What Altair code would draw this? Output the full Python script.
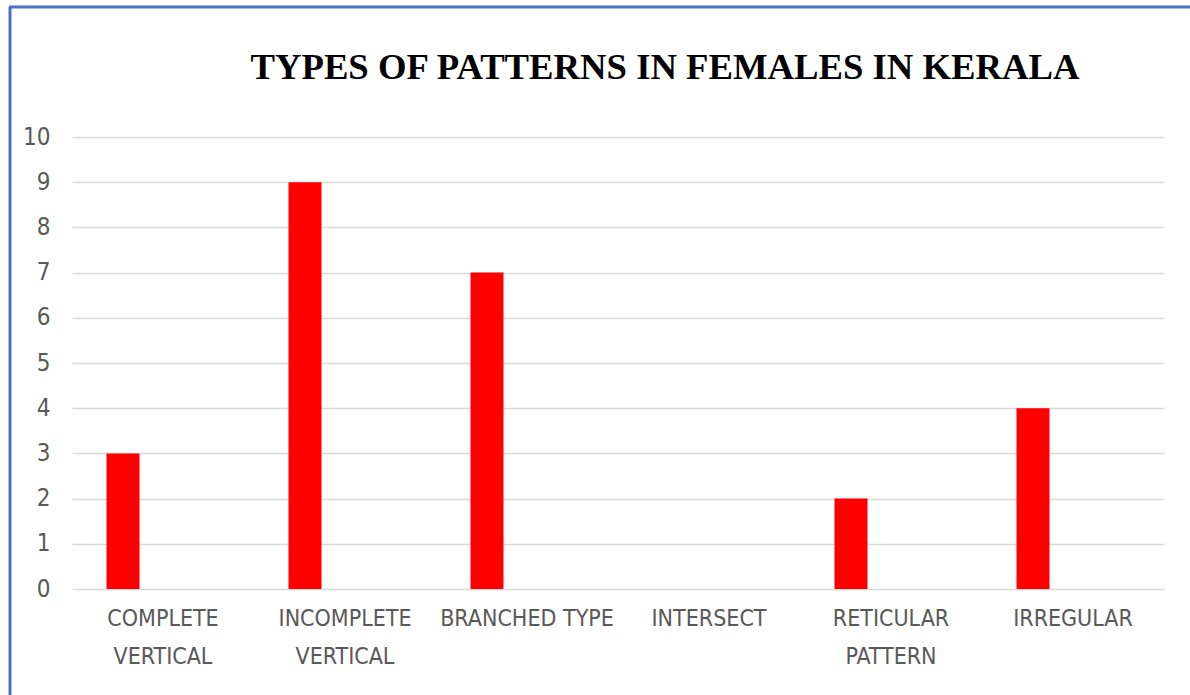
import altair as alt
import pandas as pd

# Pattern categories and their counts
categories = [
    "COMPLETE VERTICAL",
    "INCOMPLETE VERTICAL",
    "BRANCHED TYPE",
    "INTERSECT",
    "RETICULAR PATTERN",
    "IRREGULAR",
]
counts = [3, 9, 7, 0, 2, 4]
y_ticks = [0, 1, 2, 3, 4, 5, 6, 7, 8, 9, 10]
single_line = ["BRANCHED TYPE", "INTERSECT", "IRREGULAR"]
title_text = "TYPES OF PATTERNS IN FEMALES IN KERALA"

df = pd.DataFrame({"pattern": categories, "count": counts})

label_font = "Liberation Sans Narrow, DejaVu Sans Condensed, Arial Narrow, sans-serif"
single_list = "[" + ",".join(f"'{s}'" for s in single_line) + "]"

bars = alt.Chart(df).mark_bar(color="#ff0000", width=33, xOffset=-40).encode(
    x=alt.X(
        "pattern:N",
        sort=categories,
        scale=alt.Scale(paddingInner=0, paddingOuter=0),
        axis=alt.Axis(
            title=None,
            labelAngle=0,
            domain=False,
            ticks=False,
            grid=False,
            labelFont=label_font,
            labelFontSize=23,
            labelColor="#595959",
            labelPadding=18,
            labelLineHeight=38,
            labelExpr=f"indexof({single_list}, datum.value) >= 0 ? datum.value : split(datum.value, ' ')",
        ),
    ),
    y=alt.Y(
        "count:Q",
        scale=alt.Scale(domain=[0, 10], nice=False),
        axis=alt.Axis(
            title=None,
            values=y_ticks,
            domain=False,
            ticks=False,
            grid=True,
            gridColor="#d9d9d9",
            gridWidth=1.5,
            labelFont=label_font,
            labelFontSize=24,
            labelColor="#595959",
            labelPadding=22,
        ),
    ),
)

one_row = alt.Chart(pd.DataFrame({"t": [title_text]}))

# Chart heading, set above the plot and shifted to the right of centre
heading = one_row.mark_text(
    font="Liberation Serif, Times New Roman, serif",
    fontSize=36.7,
    fontWeight="bold",
    color="#000000",
    align="center",
    baseline="alphabetic",
).encode(text="t:N", x=alt.value(593), y=alt.value(-58))

# Chart frame (blue outline along the left and top edges)
frame_left = one_row.mark_rule(color="#4472c4", strokeWidth=3).encode(
    x=alt.value(-62), x2=alt.value(-62), y=alt.value(-130), y2=alt.value(600)
)
frame_top = one_row.mark_rule(color="#4472c4", strokeWidth=3).encode(
    x=alt.value(-63), x2=alt.value(1140), y=alt.value(-130), y2=alt.value(-130)
)

chart = (
    alt.layer(bars, heading, frame_left, frame_top)
    .properties(
        width=1092,
        height=452,
        background="#ffffff",
        autosize=alt.AutoSizeParams(type="none"),
        padding={"left": 72, "top": 137, "right": 26, "bottom": 106},
    )
    .configure_view(stroke="transparent", strokeWidth=0)
)

chart.save("out.html", embed_options={"renderer": "svg", "actions": False})
